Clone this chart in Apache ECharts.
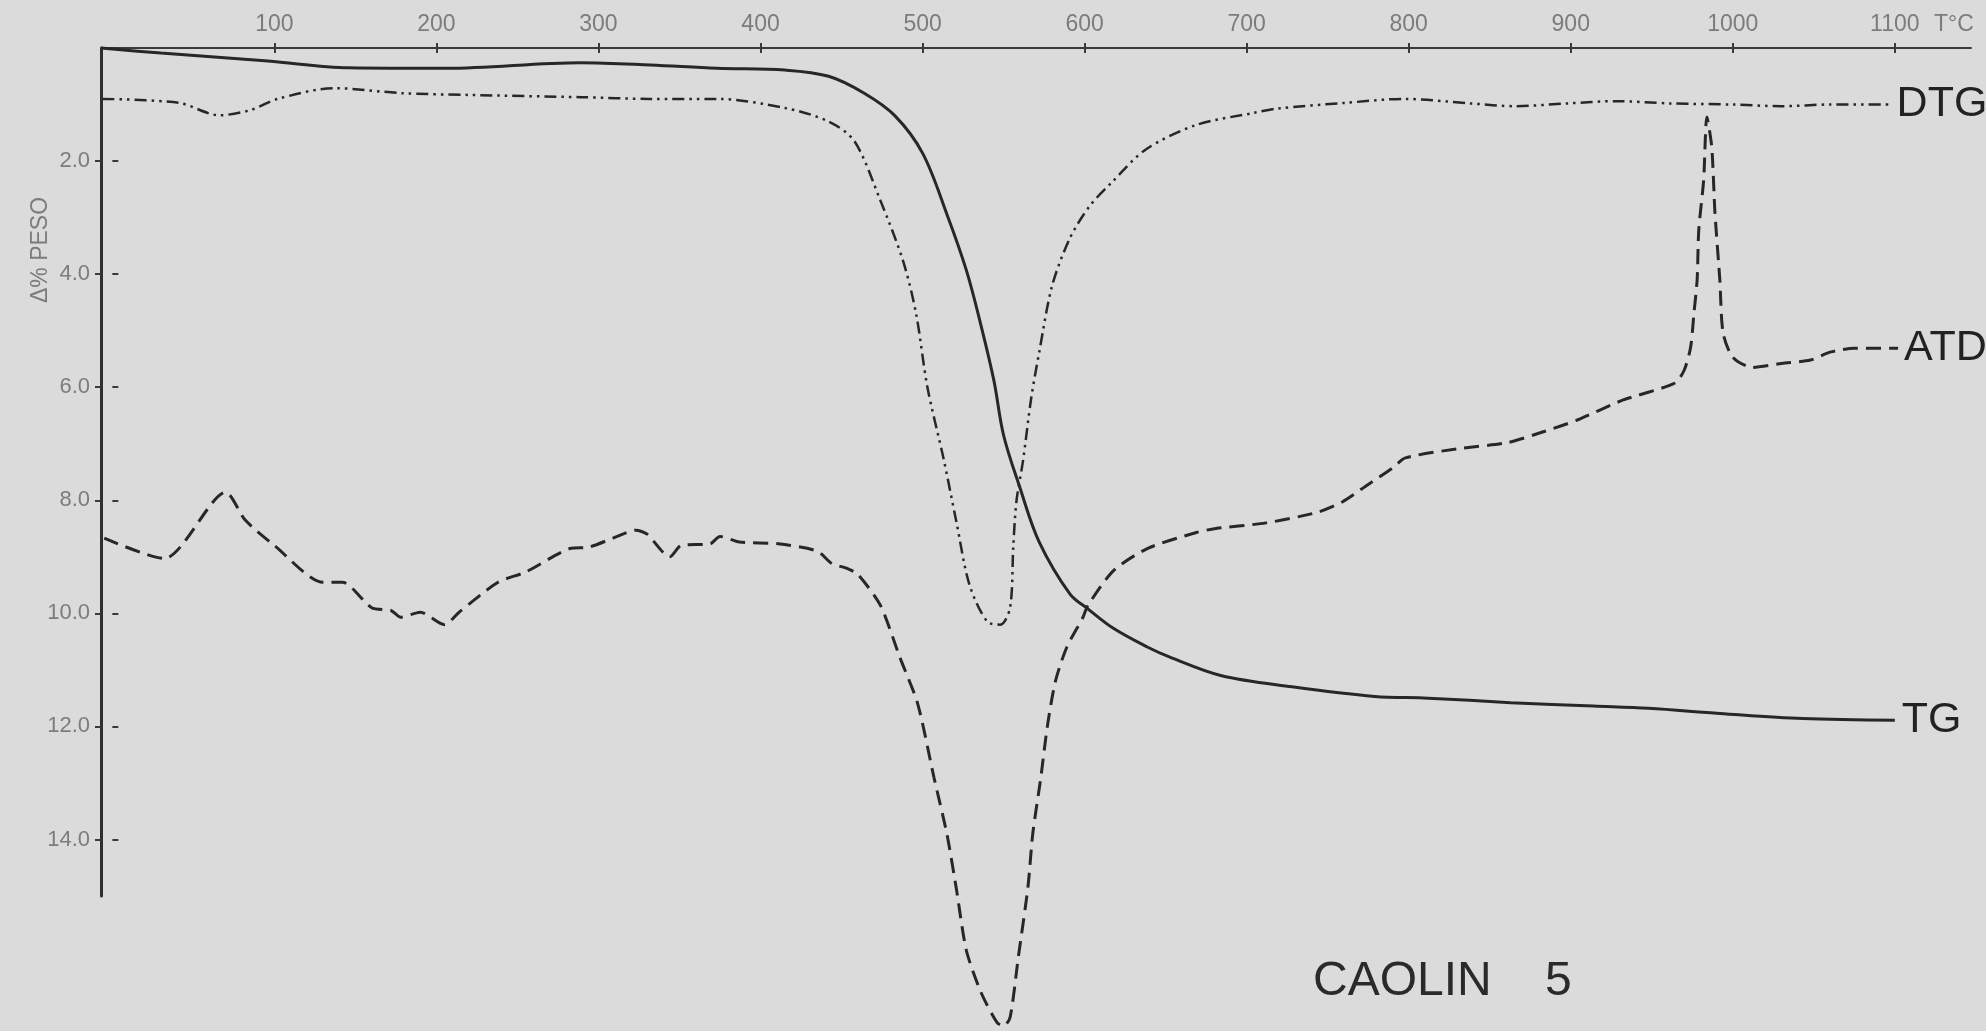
<!DOCTYPE html>
<html>
<head>
<meta charset="utf-8">
<script src="https://cdn.jsdelivr.net/npm/echarts@6/dist/echarts.min.js"></script>
<style>
html,body{margin:0;padding:0;background:#dbdbdb;}
#chart{width:1986px;height:1031px;}
</style>
</head>
<body>
<div id="chart"></div>
<script>
// Temperature axis (°C) tick labels and weight-loss axis (%) tick labels
const xTicks = [100, 200, 300, 400, 500, 600, 700, 800, 900, 1000, 1100];
const yTicks = [2, 4, 6, 8, 10, 12, 14];

// TG (solid)
const tgT = [-7, 30, 96, 146, 206, 289, 332, 373, 415, 442, 464, 483, 500, 515, 527, 536, 544, 550, 560, 572, 591, 602, 618, 639, 653, 684, 728, 779, 812, 863, 914, 948, 992, 1043, 1100];
const tgV = [0, 0.09, 0.23, 0.35, 0.36, 0.26, 0.30, 0.36, 0.39, 0.50, 0.80, 1.2, 1.86, 2.94, 3.93, 4.9, 5.88, 6.85, 7.77, 8.74, 9.66, 9.92, 10.27, 10.6, 10.78, 11.1, 11.3, 11.47, 11.5, 11.58, 11.64, 11.68, 11.77, 11.86, 11.89];

// DTG (dash-dot-dot)
const dtgT = [-6, 41, 66, 85, 102, 137, 179, 220, 289, 332, 373, 415, 442, 458, 474, 488, 496, 503, 513, 521, 529, 540, 548, 554, 556, 558, 562, 567, 572, 580, 591, 603, 617, 638, 669, 704, 719, 761, 797, 838, 866, 898, 928, 961, 1000, 1030, 1060, 1098];
const dtgV = [0.9, 0.97, 1.19, 1.1, 0.9, 0.71, 0.8, 0.83, 0.87, 0.9, 0.9, 1.06, 1.3, 1.65, 2.7, 3.77, 4.7, 6.0, 7.27, 8.4, 9.5, 10.15, 10.2, 9.9, 8.8, 8.0, 7.3, 6.2, 5.38, 4.2, 3.36, 2.8, 2.37, 1.79, 1.36, 1.15, 1.07, 0.97, 0.9, 0.98, 1.03, 0.98, 0.94, 0.98, 1.0, 1.03, 1.0, 1.0];

// ATD (dashed)
const atdT = [-5, 32, 70, 82, 100, 130, 142, 160, 172, 178, 190, 205, 214, 238, 255, 283, 294, 309, 323, 330, 344, 351, 369, 375, 387, 411, 435, 444, 453, 460, 474, 486, 497, 507, 515, 521, 527, 536, 546, 550, 554, 559, 565, 568, 573, 577, 582, 589, 599, 602, 618, 639, 669, 681, 712, 744, 759, 775, 790, 798, 830, 861, 884, 904, 932, 964, 970, 974, 976, 978, 979, 982, 984, 987, 989, 992, 994, 1000, 1012, 1030, 1048, 1060, 1075, 1102];
const atdV = [8.67, 9.03, 7.86, 8.35, 8.8, 9.45, 9.45, 9.9, 9.95, 10.07, 9.98, 10.2, 9.98, 9.45, 9.27, 8.85, 8.83, 8.67, 8.53, 8.6, 9.0, 8.8, 8.77, 8.64, 8.74, 8.77, 8.9, 9.12, 9.2, 9.31, 9.86, 10.78, 11.6, 12.9, 13.9, 14.9, 15.96, 16.7, 17.24, 17.3, 17.15, 16.1, 14.85, 13.9, 12.9, 12.0, 11.2, 10.6, 10.07, 9.86, 9.24, 8.85, 8.57, 8.5, 8.4, 8.21, 8.03, 7.72, 7.43, 7.25, 7.09, 6.98, 6.78, 6.58, 6.23, 5.93, 5.7, 5.29, 4.7, 4.1, 3.22, 2.34, 1.22, 1.75, 2.92, 4.1, 5.04, 5.47, 5.65, 5.58, 5.52, 5.38, 5.31, 5.31];

const zip = (a, b) => a.map((t, i) => [t, b[i]]);

const chart = echarts.init(document.getElementById('chart'), null, {renderer: 'canvas'});
const ink = '#272727';
const grey = '#7c7c7c';
const labelFont = 'Liberation Sans';

chart.setOption({
  backgroundColor: '#dbdbdb',
  animation: false,
  title: {
    text: 'CAOLIN    5',
    left: 1313, top: 958, padding: 0,
    textStyle: {fontFamily: labelFont, fontSize: 48, fontWeight: 'normal', color: '#2a2a2a'}
  },
  graphic: [{
    type: 'text', x: 41, y: 250, rotation: Math.PI / 2,
    style: {text: 'Δ% PESO', fontFamily: labelFont, fontSize: 23, fill: grey,
            align: 'center', verticalAlign: 'middle', textAlign: 'center', textVerticalAlign: 'middle'}
  }],
  grid: {left: 101, right: 15, top: 48, bottom: 135, containLabel: false},
  xAxis: [{
    type: 'value', position: 'top', min: -7, max: 1147,
    name: 'T°C', nameLocation: 'end', nameGap: -37,
    nameTextStyle: {fontFamily: labelFont, fontSize: 23, color: grey, verticalAlign: 'bottom', padding: [0, 0, 12, 0]},
    axisLine: {show: true, onZero: false, lineStyle: {color: '#3a3a3a', width: 2}},
    axisTick: {show: true, inside: false, length: 5, customValues: xTicks, lineStyle: {color: '#3a3a3a', width: 2}},
    axisLabel: {show: true, margin: 12, customValues: xTicks, formatter: v => String(v),
                fontFamily: labelFont, fontSize: 23, color: grey},
    splitLine: {show: false}
  }, {
    type: 'value', position: 'top', min: -7, max: 1147,
    axisLine: {show: false},
    axisTick: {show: true, inside: true, length: 5, customValues: xTicks, lineStyle: {color: '#3a3a3a', width: 2}},
    axisLabel: {show: false},
    splitLine: {show: false}
  }],
  yAxis: [{
    type: 'value', position: 'left', inverse: true, min: 0, max: 15,
    axisLine: {show: true, onZero: false, lineStyle: {color: '#2e2e2e', width: 3}},
    axisTick: {show: true, inside: false, length: 6, customValues: yTicks, lineStyle: {color: '#3a3a3a', width: 2}},
    axisLabel: {show: true, margin: 11, customValues: yTicks, formatter: v => v.toFixed(1),
                fontFamily: labelFont, fontSize: 22, color: grey},
    splitLine: {show: false}
  }, {
    type: 'value', position: 'left', inverse: true, min: 0, max: 15,
    axisLine: {show: false},
    axisTick: {show: true, inside: true, length: 6, customValues: yTicks, lineStyle: {color: '#3a3a3a', width: 2}},
    axisLabel: {show: false},
    splitLine: {show: false}
  }],
  series: [{
    name: 'TG', type: 'line', data: zip(tgT, tgV), showSymbol: false, symbol: 'none',
    smooth: 0.35, clip: false,
    lineStyle: {color: ink, width: 3, type: 'solid'},
    endLabel: {show: true, formatter: 'TG', distance: 7, fontFamily: labelFont, fontSize: 43, color: '#222'}
  }, {
    name: 'DTG', type: 'line', data: zip(dtgT, dtgV), showSymbol: false, symbol: 'none',
    smooth: 0.3, clip: false,
    lineStyle: {color: ink, width: 2.5, type: [12, 5, 2.5, 5, 2.5, 5]},
    endLabel: {show: true, formatter: 'DTG', distance: 5, fontFamily: labelFont, fontSize: 43, color: '#222'}
  }, {
    name: 'ATD', type: 'line', data: zip(atdT, atdV), showSymbol: false, symbol: 'none',
    smooth: 0.25, clip: false,
    lineStyle: {color: ink, width: 3, type: [15, 8]},
    endLabel: {show: true, formatter: 'ATD', distance: 6, fontFamily: labelFont, fontSize: 43, color: '#222'}
  }]
});
</script>
</body>
</html>
